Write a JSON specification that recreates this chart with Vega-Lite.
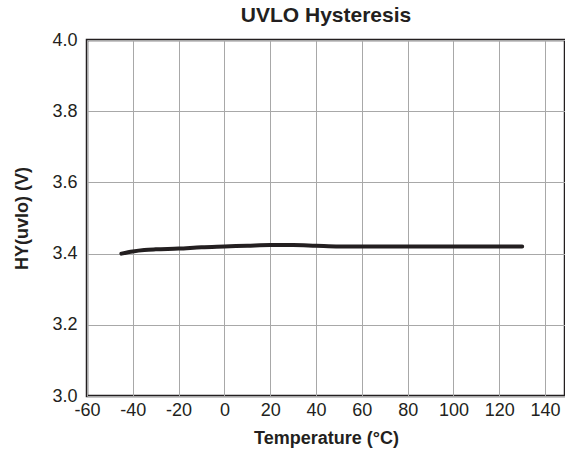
{
  "$schema": "https://vega.github.io/schema/vega-lite/v6.json",
  "width": 478,
  "height": 356,
  "autosize": {"type": "none"},
  "padding": {"left": 87, "top": 40, "right": 0, "bottom": 57},
  "title": {"text": "UVLO Hysteresis", "font": "Liberation Sans", "fontSize": 21, "fontWeight": "bold", "color": "#231f20", "offset": 5},
  "config": {
    "view": {"stroke": "#231f20", "strokeWidth": 2.5},
    "axis": {"domain": false, "ticks": false, "gridColor": "#a8a8a8", "gridWidth": 1, "gridOpacity": 1,
      "labelFont": "Liberation Sans", "labelFontSize": 18, "labelColor": "#231f20",
      "titleFont": "Liberation Sans", "titleFontSize": 18, "titleFontWeight": "bold", "titleColor": "#231f20"}
  },
  "data": {"values": [
    {"t": -45, "v": 3.400},
    {"t": -40, "v": 3.406},
    {"t": -35, "v": 3.410},
    {"t": -30, "v": 3.412},
    {"t": -20, "v": 3.414},
    {"t": -10, "v": 3.418},
    {"t": 0, "v": 3.420},
    {"t": 10, "v": 3.422},
    {"t": 20, "v": 3.424},
    {"t": 30, "v": 3.424},
    {"t": 40, "v": 3.422},
    {"t": 50, "v": 3.420},
    {"t": 60, "v": 3.420},
    {"t": 80, "v": 3.420},
    {"t": 100, "v": 3.420},
    {"t": 120, "v": 3.420},
    {"t": 130, "v": 3.420}
  ]},
  "mark": {"type": "line", "color": "#231f20", "strokeWidth": 4, "strokeCap": "round", "interpolate": "monotone", "clip": true},
  "encoding": {
    "x": {"field": "t", "type": "quantitative", "title": "Temperature (°C)",
      "scale": {"domain": [-60, 148.7], "nice": false, "zero": false},
      "axis": {"values": [-60, -40, -20, 0, 20, 40, 60, 80, 100, 120, 140], "labelExpr": "datum.value < 0 ? '-' + abs(datum.value) : '' + datum.value", "labelPadding": 5, "titlePadding": 10, "labelFlush": false}},
    "y": {"field": "v", "type": "quantitative", "title": "HY(uvlo) (V)",
      "scale": {"domain": [3.0, 4.0], "nice": false, "zero": false},
      "axis": {"values": [3.0, 3.2, 3.4, 3.6, 3.8, 4.0], "format": ".1f", "labelPadding": 10, "titlePadding": 20, "labelFlush": false}}
  }
}
